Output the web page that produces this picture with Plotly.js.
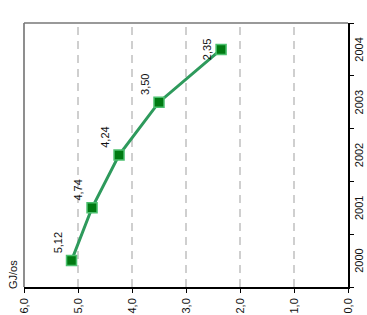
<!DOCTYPE html>
<html>
<head>
<meta charset="utf-8">
<script src="https://cdn.plot.ly/plotly-3.0.1.min.js"></script>
<style>
  html, body { margin: 0; padding: 0; width: 367px; height: 315px; overflow: hidden; background: #fff; }
  #wrap { position: absolute; left: 0; top: 0; width: 315px; height: 367px;
          transform-origin: 0 0; transform: translate(0px, 315px) rotate(-90deg); }
  #chart { width: 315px; height: 367px; }
</style>
</head>
<body>
<div id="wrap"><div id="chart"></div></div>
<script>
// Data (chart is drawn upright, then the page rotates it 90° counter-clockwise)
const years = ['2000', '2001', '2002', '2003', '2004'];
const values = [5.12, 4.74, 4.24, 3.50, 2.35];
const labelPositions = ['top right', 'top right', 'top right', 'top right', 'top center'];
const unitLabel = 'GJ/os';

const font = 'Liberation Sans, Arial, sans-serif';

const trace = {
  type: 'scatter',
  mode: 'lines+markers+text',
  x: years,
  y: values,
  texttemplate: '%{y:.2f}',
  textposition: labelPositions,
  textfont: { family: font, size: 11, color: '#111' },
  line: { color: '#2e9a5c', width: 3 },
  marker: { symbol: 'square', size: 10, color: '#007a12', line: { color: '#4cc06f', width: 1.5 } },
  cliponaxis: false,
  hoverinfo: 'skip'
};

const layout = {
  width: 315,
  height: 367,
  margin: { l: 28, r: 23, t: 24, b: 19, pad: 0 },
  paper_bgcolor: '#fff',
  plot_bgcolor: '#fff',
  separators: ',.',
  showlegend: false,
  font: { family: font, size: 11, color: '#111' },
  xaxis: {
    type: 'category',
    categoryorder: 'array',
    categoryarray: years,
    range: [-0.5, 4.5],
    tickson: 'boundaries',
    ticks: 'outside',
    ticklen: 4,
    tickwidth: 1,
    tickcolor: '#000',
    showline: true,
    linecolor: '#000',
    linewidth: 2,
    showgrid: false,
    zeroline: false,
    tickfont: { family: font, size: 11, color: '#111' },
    fixedrange: true
  },
  yaxis: {
    range: [0, 6],
    dtick: 1,
    tick0: 0,
    tickformat: '.1f',
    ticks: 'outside',
    ticklen: 4,
    tickwidth: 1,
    tickcolor: '#000',
    ticklabelstandoff: 3,
    showline: true,
    linecolor: '#000',
    linewidth: 2,
    showgrid: true,
    gridcolor: '#cfcfcf',
    gridwidth: 1.5,
    griddash: '8px,6px',
    zeroline: false,
    tickfont: { family: font, size: 11, color: '#111' },
    fixedrange: true
  },
  shapes: [
    { type: 'line', xref: 'paper', yref: 'paper', x0: 0, x1: 1, y0: 1, y1: 1,
      line: { color: '#444', width: 1.2 } },
    { type: 'line', xref: 'paper', yref: 'paper', x0: 1, x1: 1, y0: 0, y1: 1,
      line: { color: '#777', width: 1.5 } }
  ],
  annotations: [
    { text: unitLabel, xref: 'paper', yref: 'paper', x: 0, y: 1, xanchor: 'left', yanchor: 'bottom',
      xshift: -4, yshift: 3, showarrow: false, font: { family: font, size: 11, color: '#111' } }
  ]
};

Plotly.newPlot('chart', [trace], layout, { staticPlot: true, displayModeBar: false });
</script>
</body>
</html>
